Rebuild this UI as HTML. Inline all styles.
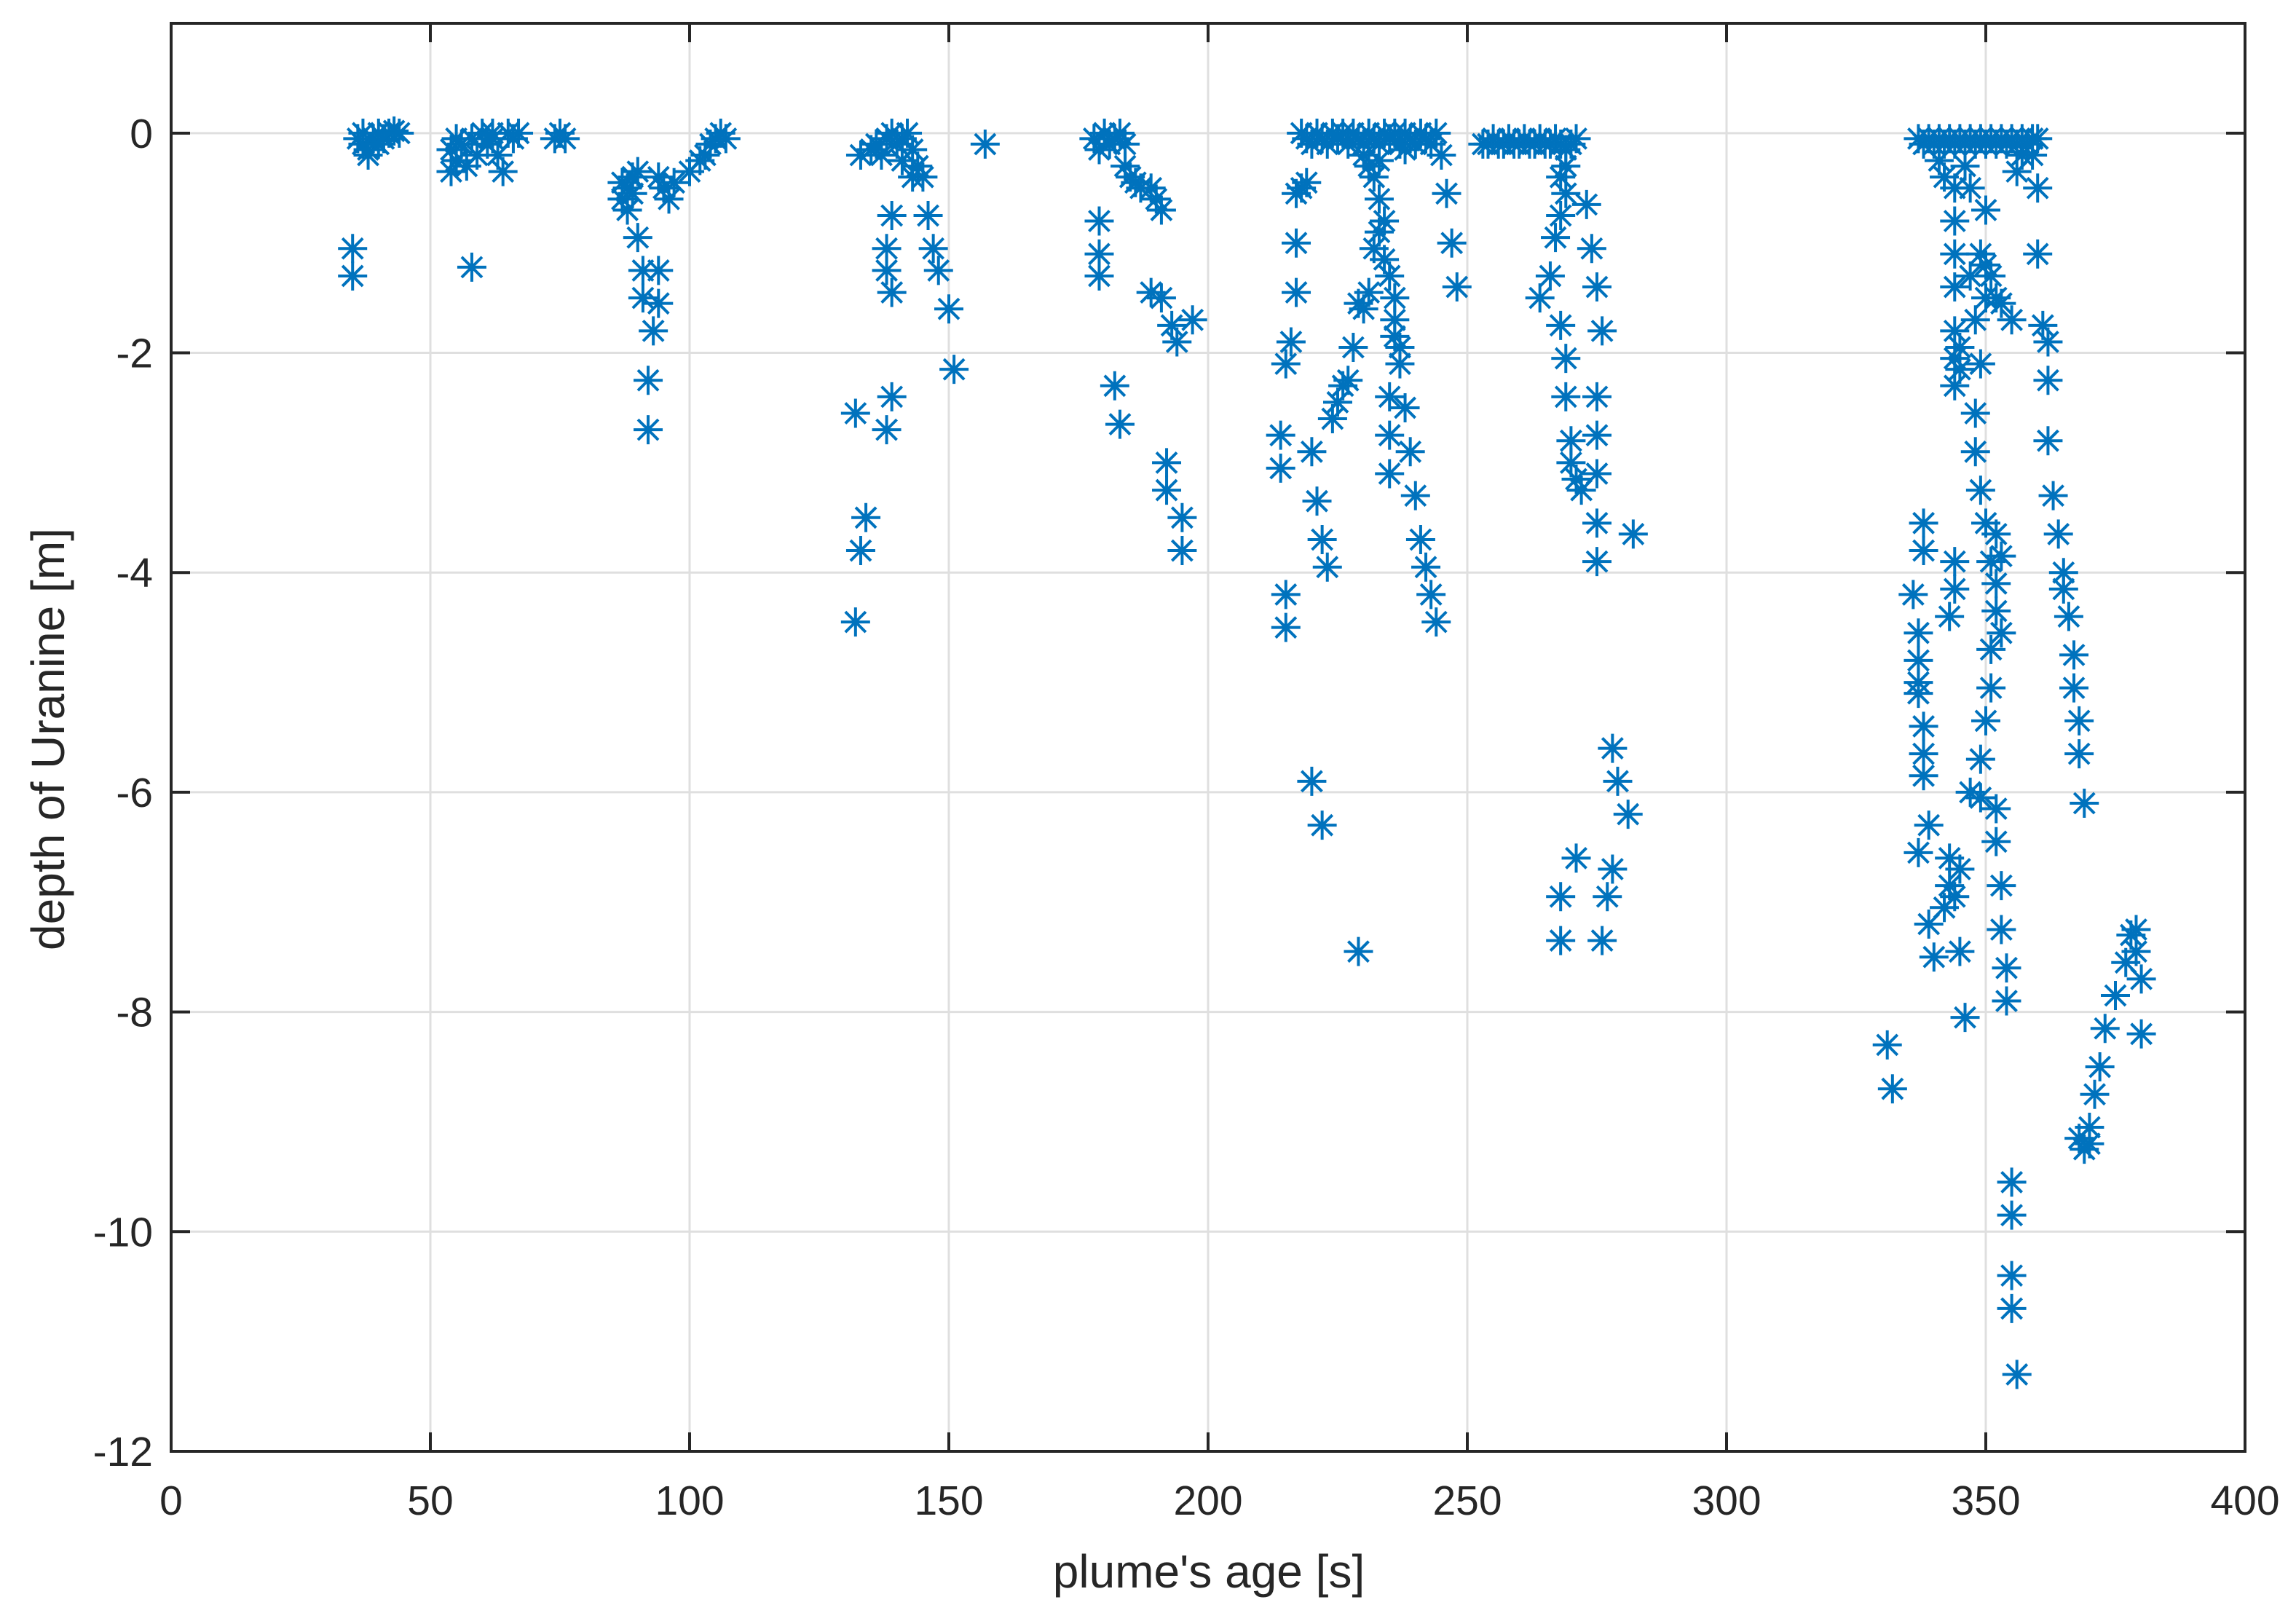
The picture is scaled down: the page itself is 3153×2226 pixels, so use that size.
<!DOCTYPE html>
<html><head><meta charset="utf-8"><style>
html,body{margin:0;padding:0;background:#fff;}
svg{display:block;font-family:"Liberation Sans",sans-serif;}
</style></head><body>
<svg id="chart" width="3153" height="2226" viewBox="0 0 3153 2226">
<rect x="0" y="0" width="3153" height="2226" fill="#fff"/>
<g id="grid"></g>
<g id="marks"></g>
<g id="axes"></g>
<text x="1660" y="2180" font-size="64" fill="#262626" text-anchor="middle">plume's age [s]</text>
<text transform="translate(88,1015) rotate(-90)" font-size="64" fill="#262626" text-anchor="middle">depth of Uranine [m]</text>
</svg>
<script>
const xTicks = [0,50,100,150,200,250,300,350,400];
const yTicks = [0,-2,-4,-6,-8,-10,-12];
const ages = [
35,35,36,37,38,39,40,41,42,43,37,38,40,44,
54,54,55,56,57,58,59,60,61,62,63,64,65,66,67,58,55,62,
74,75,76,
87,87,88,88,89,89,90,90,91,91,92,92,93,94,94,95,96,94,97,
100,102,103,104,105,106,107,
132,132,133,134,133,135,136,137,138,139,140,141,142,143,144,145,138,138,139,139,138,139,146,147,148,150,151,157,141,143,
178,179,180,181,182,183,184,179,179,179,182,183,185,186,187,189,190,191,189,191,193,194,197,192,192,195,195,184,
214,214,215,215,215,216,217,217,217,218,219,220,221,222,223,220,222,229,
224,225,226,227,228,229,230,231,232,233,234,235,235,235,236,237,238,239,240,241,242,243,244,236,237,233,232,233,234,235,236,231,230,238,
218,219,220,221,222,223,224,225,226,227,228,229,230,231,232,233,234,235,236,237,238,239,240,241,242,243,244,
246,247,248,245,
253,254,255,256,257,258,259,260,261,262,263,264,265,266,267,268,269,270,271,
264,266,267,268,268,269,269,269,270,270,271,272,273,274,275,276,275,275,275,275,275,282,269,268,
268,268,271,276,277,278,278,279,281,
337,338,339,340,341,342,343,344,345,346,347,348,349,350,351,352,353,354,355,356,357,358,359,360,
331,332,336,337,337,337,337,337,338,338,338,338,338,339,339,340,342,343,343,344,345,345,346,343,344,344,
344,344,344,344,344,344,344,345,345,346,347,347,348,348,348,349,349,349,349,347,349,350,350,351,352,353,
350,350,351,351,351,352,352,352,353,353,352,352,353,353,354,354,355,355,355,355,356,355,356,357,359,360,
360,361,362,362,362,363,364,365,365,366,367,367,368,368,369,368,369,370,370,371,372,373,375,377,378,379,
379,380,380,341,342,350
];
const depths = [
-1.05,-1.3,-0.05,-0.1,-0.15,-0.05,0,-0.05,0,0.02,0,-0.2,-0.1,0,
-0.15,-0.35,-0.25,-0.1,-0.3,-0.05,-0.2,0,-0.1,0,-0.2,-0.35,0,-0.05,0,-1.22,-0.05,-0.05,
-0.05,0,-0.05,
-0.45,-0.6,-0.5,-0.7,-0.4,-0.55,-0.35,-0.95,-1.5,-1.25,-2.25,-2.7,-1.8,-1.25,-1.55,-0.5,-0.6,-0.4,-0.45,
-0.35,-0.25,-0.2,-0.1,-0.05,0,-0.05,
-2.55,-4.45,-3.8,-3.5,-0.2,-0.15,-0.1,-0.2,-0.05,0,-0.1,-0.05,0,-0.15,-0.3,-0.4,-1.05,-1.25,-1.45,-0.75,-2.7,-2.4,-0.75,-1.05,-1.25,-1.6,-2.15,-0.1,-0.25,-0.4,
-0.05,-0.15,0,-0.1,-0.05,0,-0.1,-0.8,-1.1,-1.3,-2.3,-2.65,-0.4,-0.45,-0.5,-0.5,-0.6,-0.7,-1.45,-1.5,-1.75,-1.9,-1.7,-3.0,-3.25,-3.5,-3.8,-0.3,
-2.75,-3.05,-4.2,-4.5,-2.1,-1.9,-1.45,-1.0,-0.55,-0.5,-0.45,-2.9,-3.35,-3.7,-3.95,-5.9,-6.3,-7.45,
-2.6,-2.45,-2.3,-2.25,-1.95,-1.55,-1.6,-1.45,-1.05,-0.9,-1.15,-2.4,-2.75,-3.1,-1.85,-2.1,-2.5,-2.9,-3.3,-3.7,-3.95,-4.2,-4.45,-1.7,-1.95,-0.6,-0.4,-0.25,-0.8,-1.3,-1.5,-0.3,-0.2,-0.15,
0,-0.05,-0.1,0,-0.05,-0.1,0,-0.05,0,-0.1,0,-0.05,-0.1,0,-0.05,-0.1,0,-0.05,0,-0.1,0,-0.05,-0.1,0,-0.05,-0.1,0,
-0.55,-1.0,-1.4,-0.2,
-0.1,-0.1,-0.05,-0.1,-0.1,-0.05,-0.1,-0.1,-0.05,-0.1,-0.1,-0.05,-0.1,-0.1,-0.05,-0.1,-0.15,-0.1,-0.05,
-1.5,-1.3,-0.95,-0.75,-1.75,-0.55,-2.05,-2.4,-2.8,-3.0,-3.15,-3.25,-0.65,-1.05,-1.4,-1.8,-2.4,-2.75,-3.1,-3.55,-3.9,-3.65,-0.3,-0.4,
-6.95,-7.35,-6.6,-7.35,-6.95,-6.7,-5.6,-5.9,-6.2,
-0.05,-0.1,-0.05,-0.1,-0.05,-0.1,-0.05,-0.1,-0.05,-0.1,-0.05,-0.1,-0.05,-0.1,-0.05,-0.1,-0.05,-0.1,-0.05,-0.1,-0.05,-0.1,-0.05,-0.05,
-8.3,-8.7,-4.2,-4.55,-4.8,-5.0,-5.1,-6.55,-3.55,-3.8,-5.4,-5.65,-5.85,-6.3,-7.2,-7.5,-7.05,-6.85,-6.6,-6.95,-6.7,-7.45,-8.05,-4.4,-3.9,-4.15,
-0.5,-0.8,-1.1,-1.4,-1.8,-2.05,-2.3,-1.95,-2.15,-0.3,-0.5,-1.3,-1.7,-2.55,-2.9,-1.1,-2.1,-3.25,-5.7,-6.0,-6.05,-1.2,-1.5,-1.3,-1.5,-1.55,
-3.55,-5.35,-5.05,-4.7,-3.9,-4.1,-4.35,-3.65,-3.85,-4.55,-6.15,-6.45,-6.85,-7.25,-7.6,-7.9,-9.55,-9.85,-10.4,-10.7,-11.3,-1.7,-0.35,-0.2,-0.2,-0.5,
-1.1,-1.75,-1.9,-2.25,-2.8,-3.3,-3.65,-4.0,-4.15,-4.4,-4.75,-5.05,-5.35,-5.65,-6.1,-9.15,-9.25,-9.05,-9.2,-8.75,-8.5,-8.15,-7.85,-7.55,-7.3,-7.25,
-7.45,-7.7,-8.2,-0.25,-0.4,-0.7
];
const NS='http://www.w3.org/2000/svg';
const L=235,R=3083,T=32,B=1993;
const xMin=0,xMax=400,yMin=-12,yMax=1;
function sx(v){return L+(v-xMin)/(xMax-xMin)*(R-L);}
function sy(v){return B-(v-yMin)/(yMax-yMin)*(B-T);}
function mk(tag,attrs,parent){const e=document.createElementNS(NS,tag);for(const k in attrs)e.setAttribute(k,attrs[k]);parent.appendChild(e);return e;}
const grid=document.getElementById('grid'),axes=document.getElementById('axes'),marks=document.getElementById('marks');
xTicks.forEach(t=>{
  const x=sx(t);
  const g=mk('line',{x1:x,x2:x,y1:T,y2:B,stroke:'#dfdfdf','stroke-width':3},grid);
  
  
  const tk=mk('line',{x1:x,x2:x,y1:B,y2:B-26,stroke:'#262626','stroke-width':4},axes);
  
  
  const tk2=mk('line',{x1:x,x2:x,y1:T,y2:T+26,stroke:'#262626','stroke-width':4},axes);
  
  
  const lb=mk('text',{x:x,y:2080,'font-size':57,fill:'#262626','text-anchor':'middle'},axes);
  lb.textContent=t;
  
  
});
yTicks.forEach(t=>{
  const y=sy(t);
  const g=mk('line',{x1:L,x2:R,y1:y,y2:y,stroke:'#dfdfdf','stroke-width':3},grid);
  
  
  const tk=mk('line',{x1:L,x2:L+26,y1:y,y2:y,stroke:'#262626','stroke-width':4},axes);
  
  
  const tk2=mk('line',{x1:R,x2:R-26,y1:y,y2:y,stroke:'#262626','stroke-width':4},axes);
  
  
  const lb=mk('text',{x:210,y:y+20,'font-size':57,fill:'#262626','text-anchor':'end'},axes);
  lb.textContent=t;
  
  
});
const box=mk('rect',{x:L,y:T,width:R-L,height:B-T,fill:'none',stroke:'#262626','stroke-width':4},axes);


const h=20,d=14;
for(let i=0;i<ages.length;i++){
  const x=sx(ages[i]),y=sy(depths[i]);
  const p=mk('path',{d:`M${x-h},${y}H${x+h}M${x},${y-h}V${y+h}M${x-d},${y-d}L${x+d},${y+d}M${x-d},${y+d}L${x+d},${y-d}`,stroke:'#0072BD','stroke-width':4,fill:'none'},marks);
  
  
}
</script>
</body></html>
